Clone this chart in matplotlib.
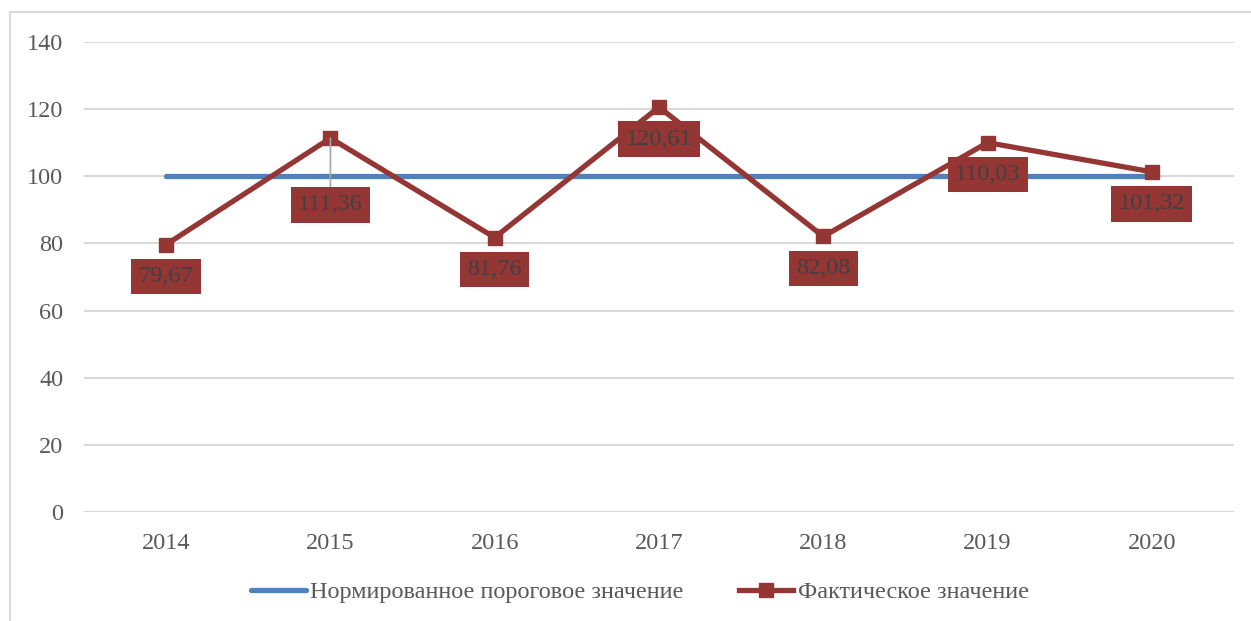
import matplotlib.pyplot as plt
from matplotlib.patches import Rectangle

years = ['2014', '2015', '2016', '2017', '2018', '2019', '2020']
threshold = [100, 100, 100, 100, 100, 100, 100]
actual = [79.67, 111.36, 81.76, 120.61, 82.08, 110.03, 101.32]
label_offsets = [-23, -48, -23, -23, -23, -23, -23]

plt.rcParams['font.family'] = ['Liberation Serif', 'DejaVu Serif']

text_color = '#595959'
blue = '#4F81BD'
red = '#943634'

fig = plt.figure(figsize=(12.51, 6.21), dpi=100)
fig.patches.append(Rectangle((10 / 1251, -0.1), 1.2, 1 - 12 / 621 + 0.1,
                             transform=fig.transFigure, fill=False,
                             edgecolor='#D9D9D9', linewidth=1.5))
ax = fig.add_axes([84 / 1251, 1 - 512 / 621, (1234 - 84) / 1251, (512 - 42) / 621])

x = list(range(len(years)))
ax.plot(x, threshold, color=blue, linewidth=3.8, solid_capstyle='round',
        label='Нормированное пороговое значение', zorder=3)
ax.plot(x, actual, color=red, linewidth=3.8, marker='s', markersize=10,
        label='Фактическое значение', zorder=4)

for xi, val, off in zip(x, actual, label_offsets):
    txt = f'{val:.2f}'.replace('.', ',')
    arrow = None
    if off < -30:
        arrow = dict(arrowstyle='-', color='#A6A6A6', linewidth=1.2,
                     shrinkA=0, shrinkB=0)
    ax.annotate(txt, (xi, val), xytext=(0, off), textcoords='offset points',
                ha='center', va='center', fontsize=17.5, color='#404040',
                bbox=dict(boxstyle='square,pad=0.3', facecolor=red,
                          edgecolor='none'),
                arrowprops=arrow, zorder=5)

ax.set_xlim(-0.5, len(years) - 0.5)
ax.set_ylim(0, 140)
ax.set_yticks(range(0, 141, 20))
ax.set_xticks(x)
ax.set_xticklabels(years)
ax.grid(axis='y', color='#D9D9D9', linewidth=1.5)
ax.set_axisbelow(True)
for s in ax.spines.values():
    s.set_visible(False)
ax.tick_params(axis='both', length=0, labelsize=17.5, colors=text_color)
ax.tick_params(axis='y', pad=15)
ax.tick_params(axis='x', pad=15)

fig.legend(loc='center', bbox_to_anchor=(640 / 1251, 1 - 592 / 621), ncol=2,
           frameon=False, fontsize=17.5, labelcolor=text_color,
           handlelength=2.25, handletextpad=0.2, columnspacing=2.25)

fig.savefig('out.png', dpi=100)
